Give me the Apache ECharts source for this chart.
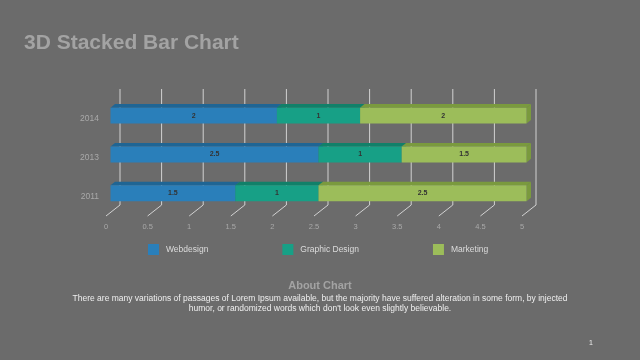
<!DOCTYPE html>
<html>
<head>
<meta charset="utf-8">
<script src="https://cdn.jsdelivr.net/npm/echarts@6/dist/echarts.min.js"></script>
<style>
html,body{margin:0;padding:0;background:#6b6b6b;}
#chart{width:640px;height:360px;}
</style>
</head>
<body>
<div id="chart"></div>
<script>
const categories = ['2011', '2013', '2014'];
const seriesNames = ['Webdesign', 'Graphic Design', 'Marketing'];
const webdesign = [1.5, 2.5, 2];
const graphicDesign = [1, 1, 1];
const marketing = [2.5, 1.5, 2];
const xTicks = [0, 0.5, 1, 1.5, 2, 2.5, 3, 3.5, 4, 4.5, 5];
const paragraphLines = [
  'There are many variations of passages of Lorem Ipsum available, but the majority have suffered alteration in some form, by injected',
  'humor, or randomized words which don\'t look even slightly believable.'
];

const frontColors = ['#2a7fba', '#17a086', '#9cbd5a'];
const topColors = ['#1f6594', '#118069', '#7a9a3e'];

const valuesBySeries = [webdesign, graphicDesign, marketing];

// build stacked [catIndex, start, end, value]
const stacked = valuesBySeries.map(() => []);
categories.forEach((c, ci) => {
  let acc = 0;
  valuesBySeries.forEach((vals, si) => {
    stacked[si].push([ci, acc, acc + vals[ci], vals[ci]]);
    acc += vals[ci];
  });
});

const DX = 4.5, DY = -3.3, DEPTH_X = 4.5, DEPTH_Y = 3.6;
const FONT = '"Liberation Sans", Arial, sans-serif';

function makeBarRenderer(si) {
  return function (params, api) {
    const cat = api.value(0), s = api.value(1), e = api.value(2), v = api.value(3);
    const p0 = api.coord([s, cat]);
    const p1 = api.coord([e, cat]);
    const band = api.size([0, 1])[1];
    const h = band * 0.41;
    const x0 = p0[0] + DX, x1 = p1[0] + DX;
    const yc = p0[1] + DY;
    const yT = yc - h / 2, yB = yc + h / 2;
    return {
      type: 'group',
      children: [
        { type: 'polygon', shape: { points: [[x1, yT], [x1 + DEPTH_X, yT - DEPTH_Y], [x1 + DEPTH_X, yB - DEPTH_Y], [x1, yB]] }, style: { fill: topColors[si] } },
        { type: 'polygon', shape: { points: [[x0, yT], [x1, yT], [x1 + DEPTH_X, yT - DEPTH_Y], [x0 + DEPTH_X, yT - DEPTH_Y]] }, style: { fill: topColors[si] } },
        { type: 'rect', shape: { x: x0, y: yT, width: x1 - x0, height: h }, style: { fill: frontColors[si] } },
        { type: 'text', x: (x0 + x1) / 2, y: yc, style: { text: String(v), fill: '#333', font: 'bold 7px ' + FONT, align: 'center', verticalAlign: 'middle' } }
      ]
    };
  };
}

function renderGrid(params, api) {
  const cs = params.coordSys;
  const x = api.coord([api.value(0), 0])[0];
  const floorY = cs.y + cs.height;
  return {
    type: 'polyline',
    shape: { points: [[x, floorY], [x + 14, floorY - 11], [x + 14, cs.y - 10.5]] },
    style: { stroke: '#d2d2d2', lineWidth: 1, fill: null }
  };
}

const chart = echarts.init(document.getElementById('chart'), null, { renderer: 'canvas' });

const series = [{
  type: 'custom',
  name: 'grid',
  renderItem: renderGrid,
  data: xTicks.map(t => [t]),
  encode: { x: 0 },
  silent: true,
  z: 1
}];
seriesNames.forEach((n, si) => {
  series.push({
    type: 'custom',
    name: n,
    renderItem: makeBarRenderer(si),
    data: stacked[si],
    encode: { x: [1, 2], y: 0 },
    itemStyle: { color: frontColors[si] },
    z: 2
  });
});

chart.setOption({
  backgroundColor: '#6b6b6b',
  animation: false,
  title: [
    { text: '3D Stacked Bar Chart', left: 24, top: 33, padding: 0, textStyle: { color: '#a3a3a3', fontSize: 21, fontWeight: 'bold', fontFamily: FONT } },
    { text: 'About Chart', left: 'center', top: 280, padding: 0, textStyle: { color: '#a3a3a3', fontSize: 11, fontWeight: 'bold', fontFamily: FONT } },
    { text: '1', left: 589, top: 340, padding: 0, textStyle: { color: '#eeeeee', fontSize: 7, fontWeight: 'normal', fontFamily: FONT } }
  ],
  graphic: paragraphLines.map((line, i) => ({
    type: 'text',
    x: 320,
    y: 294 + i * 10,
    style: {
      text: line,
      fill: '#efefef',
      font: '8.5px ' + FONT,
      align: 'center',
      verticalAlign: 'top'
    }
  })),
  legend: {
    data: seriesNames,
    left: 148,
    top: 244,
    padding: 0,
    icon: 'rect',
    itemWidth: 11,
    itemHeight: 11,
    itemGap: 74,
    textStyle: { color: '#dcdcdc', fontSize: 8.5, fontFamily: FONT, padding: [0, 0, 0, 2] }
  },
  grid: { left: 106, right: 118, top: 99.5, bottom: 144, containLabel: false },
  xAxis: {
    type: 'value',
    min: 0, max: 5, interval: 0.5,
    axisLine: { show: false },
    axisTick: { show: false },
    splitLine: { show: false },
    axisLabel: { color: '#a9a9a9', fontSize: 7.5, margin: 7, fontFamily: FONT }
  },
  yAxis: {
    type: 'category',
    data: categories,
    axisLine: { show: false },
    axisTick: { show: false },
    splitLine: { show: false },
    axisLabel: { color: '#a9a9a9', fontSize: 8.5, margin: 7, fontFamily: FONT }
  },
  series: series
});
</script>
</body>
</html>
